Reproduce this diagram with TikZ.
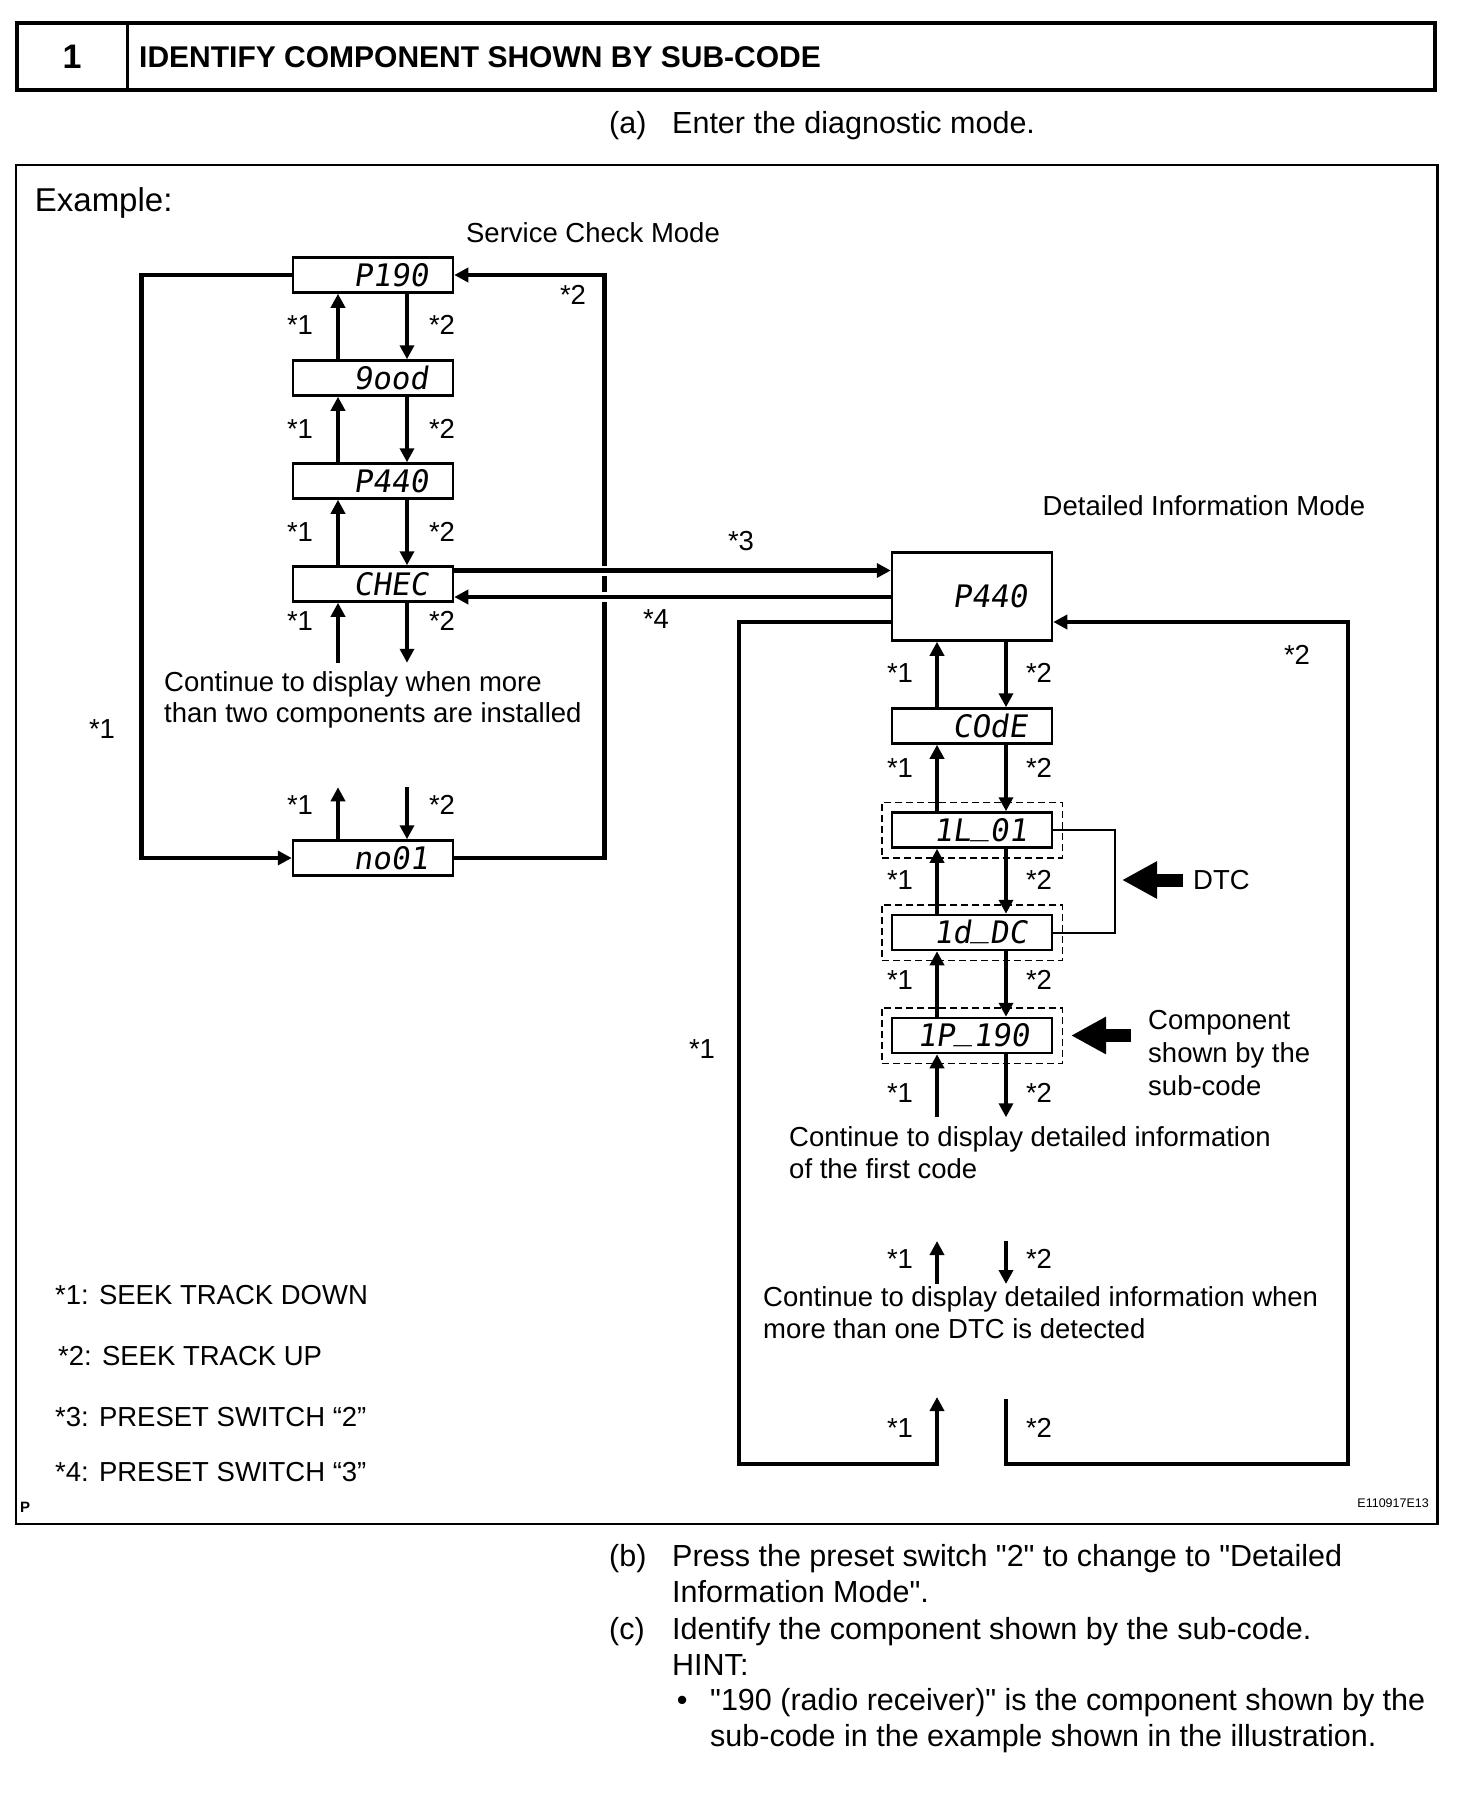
\documentclass[tikz,border=0pt]{standalone}
\usepackage{fontspec}
\setmainfont{Liberation Sans}[Ligatures=TeXOff]
\newfontfamily\lcdfont[FakeSlant=0.15]{DejaVu Sans Mono}
\usetikzlibrary{arrows.meta,fit,calc}
\newcommand\lcdus{\raisebox{7pt}{\_}}
\begin{document}
\begin{tikzpicture}[x=1pt,y=-1pt,
 arr/.style={line width=4.5pt,-{Triangle[length=14pt,width=14pt]}},
 ln/.style={line width=4.5pt},
 lcd/.style={draw,line width=2.5pt,minimum width=160pt,minimum height=35pt,text width=110pt,inner xsep=25pt,inner ysep=0pt,align=right,text height=22.6pt,text depth=0pt,font=\lcdfont\fontsize{31}{31}\selectfont},
 dashbox/.style={draw,dash pattern=on 7pt off 4pt,line width=1.5pt,inner sep=9pt},
 blockarr/.style={line width=13pt,-{Triangle[length=35pt,width=35pt]}},
 s27/.style={font=\fontsize{27.5}{33}\selectfont,inner sep=0pt,text height=19.8pt,text depth=0pt},
 s30/.style={font=\fontsize{30.5}{36}\selectfont,inner sep=0pt,text height=21.9pt,text depth=0pt,anchor=west},
 bridge/.style={preaction={draw=white,line width=10pt,-,shorten <=40pt,shorten >=40pt}}
]
\useasboundingbox (0,0) rectangle (1456,1814);

% header
\draw[line width=4pt] (17.3,23) rectangle (1435,90);
\draw[line width=3pt] (127,23) -- (127,90);
\node[font=\bfseries\fontsize{34}{34}\selectfont,inner sep=0pt,text height=24.5pt,text depth=0pt] (hnum) at (72,56.5) {1};
\node[font=\bfseries\fontsize{30}{30}\selectfont,inner sep=0pt,text height=21.6pt,text depth=0pt,anchor=west] (htitle) at (139,56.5) {IDENTIFY COMPONENT SHOWN BY SUB-CODE};
\node[s30] (alab) at (609,122.6) {(a)};
\node[s30] (atext) at (672,122.6) {Enter the diagnostic mode.};

% frame
\draw[line width=2.2pt] (16,165) rectangle (1437.5,1524);
\node[font=\fontsize{33}{33}\selectfont,inner sep=0pt,text height=23.6pt,text depth=0pt,anchor=west] (example) at (34.7,200) {Example:};
\node[s27] (scm) at (593,232.5) {Service Check Mode};
\node[s27] (dim) at (1204,505.4) {Detailed Information Mode};

% left column
\node[lcd] (p190) at (373,275) {P190};
\node[lcd] (good) at (373,378) {9ood};
\node[lcd] (p440a) at (373,481) {P440};
\node[lcd] (chec) at (373,584) {CHEC};
\node[lcd] (no01) at (373,858) {no01};

% right column
\node[lcd,minimum height=88pt] (big) at (972,596.5) {P440};
\node[lcd] (code) at (972,726) {COdE};
\node[lcd] (b1l) at (972,830) {1L\lcdus01};
\node[lcd] (b1d) at (972,932.5) {1d\lcdus DC};
\node[lcd] (b1p) at (972,1035.5) {1P\lcdus190};
\node[dashbox,fit=(b1l)] (d1) {};
\node[dashbox,fit=(b1d)] (d2) {};
\node[dashbox,fit=(b1p)] (d3) {};

% vertical arrows between boxes
\foreach \u/\l in {p190/good,good/p440a,p440a/chec,big/code,code/b1l,b1l/b1d,b1d/b1p}{
  \draw[arr] ([xshift=-35pt]\l.north) -- ([xshift=-35pt]\u.south);
  \draw[arr] ([xshift=34pt]\u.south) -- ([xshift=34pt]\l.north);
}
% free arrows
\coordinate (c1) at ([xshift=-35pt,yshift=-60pt]chec.south);
\coordinate (c2) at ([xshift=34pt,yshift=-60pt]chec.south);
\draw[arr] (c1) -- ([xshift=-35pt]chec.south);
\draw[arr] ([xshift=34pt]chec.south) -- (c2);
\coordinate (n1) at ([xshift=-35pt,yshift=52pt]no01.north);
\coordinate (n2) at ([xshift=34pt,yshift=52pt]no01.north);
\draw[arr] ([xshift=-35pt]no01.north) -- (n1);
\draw[arr] (n2) -- ([xshift=34pt]no01.north);
\coordinate (q1) at ([xshift=-35pt,yshift=-63pt]b1p.south);
\coordinate (q2) at ([xshift=34pt,yshift=-63pt]b1p.south);
\draw[arr] (q1) -- ([xshift=-35pt]b1p.south);
\draw[arr] ([xshift=34pt]b1p.south) -- (q2);
\coordinate (m1a) at (937,1284);
\coordinate (m1b) at (937,1241);
\coordinate (m2a) at (1006,1241);
\coordinate (m2b) at (1006,1284);
\draw[arr] (m1a) -- (m1b);
\draw[arr] (m2a) -- (m2b);

% left loops
\coordinate (LL) at (141.7,0);
\coordinate (RL) at (604.3,0);
\draw[arr] (p190.west) -| (LL |- no01.west) -- (no01.west);
\draw[arr] (no01.east) -| (RL |- p190.east) -- (p190.east);

% *3 / *4
\draw[arr,bridge] ([yshift=13.5pt]chec.east) -- ([yshift=13.5pt]chec.east -| big.west);
\draw[arr,bridge] ([yshift=-13pt]chec.east -| big.west) -- ([yshift=-13pt]chec.east);

% right loops
\coordinate (l2end) at (937,1397);
\coordinate (r2end) at (1006,1399);
\draw[arr] (r2end) -- (1006,1464) -- (1348,1464) |- ([yshift=-25.5pt]big.east);
\draw[arr] ([yshift=-25.5pt]big.west) -| (739,1464) -| (l2end);

% bracket and block arrows
\draw[line width=2pt] (b1l.east) -- ++(62,0) |- (b1d.east);
\node[s27,anchor=west] (dtc) at (1193,880) {DTC};
\draw[blockarr] ([xshift=-10pt]dtc.west) -- ([xshift=-71pt]dtc.west);
\node[s27,anchor=west] (comp1) at (1148,1020) {Component};
\node[s27,anchor=west] (comp2) at (1148,1053) {shown by the};
\node[s27,anchor=west] (comp3) at (1148,1086) {sub-code};
\draw[blockarr] ([xshift=68pt]d3.east) -- ([xshift=8pt]d3.east);

% labels left column
\foreach \y [count=\i] in {325,429,532,621,805}{
  \node[s27] (la\i) at (300,\y) {*1};
  \node[s27] (lb\i) at (442,\y) {*2};
}
\node[s27] (lt2) at (573,295) {*2};
\node[s27] (ll1) at (102,728.6) {*1};
\node[s27] (s3) at (741,541) {*3};
\node[s27] (s4) at (656,619) {*4};
% labels right column
\foreach \y [count=\i] in {673,768,880,980,1093,1259,1428}{
  \node[s27] (ra\i) at (900,\y) {*1};
  \node[s27] (rb\i) at (1039,\y) {*2};
}
\node[s27] (rt2) at (1297,655) {*2};
\node[s27] (rl1) at (702,1049) {*1};

% texts
\node[s27,anchor=west] (t1a) at (164,681.7) {Continue to display when more};
\node[s27,anchor=west] (t1b) at (164,713) {than two components are installed};
\node[s27,anchor=west] (t2a) at (789,1137) {Continue to display detailed information};
\node[s27,anchor=west] (t2b) at (789,1169) {of the first code};
\node[s27,anchor=west] (t3a) at (763,1296.5) {Continue to display detailed information when};
\node[s27,anchor=west] (t3b) at (763,1329) {more than one DTC is detected};

% legend
\node[s27,anchor=west] (lg1) at (55,1295) {*1: SEEK TRACK DOWN};
\node[s27,anchor=west] (lg2) at (58,1356) {*2: SEEK TRACK UP};
\node[s27,anchor=west] (lg3) at (55,1416.7) {*3: PRESET SWITCH “2”};
\node[s27,anchor=west] (lg4) at (55,1471.7) {*4: PRESET SWITCH “3”};
\node[font=\bfseries\fontsize{15}{15}\selectfont,inner sep=0pt,text height=10.8pt,text depth=0pt,anchor=west] (pmark) at (20,1507) {P};
\node[font=\fontsize{12.5}{12.5}\selectfont,inner sep=0pt,text height=9pt,text depth=0pt,anchor=east] (eid) at (1429,1503) {E110917E13};

% bottom text
\node[s30] (blab) at (609,1555.5) {(b)};
\node[s30] (btxt1) at (672,1555.5) {Press the preset switch "2" to change to "Detailed};
\node[s30] (btxt2) at (672,1591.4) {Information Mode".};
\node[s30] (clab) at (609,1628.4) {(c)};
\node[s30] (ctxt1) at (672,1628.4) {Identify the component shown by the sub-code.};
\node[s30] (ctxt2) at (672,1664.2) {HINT:};
\node[s30] (bul) at (676.6,1700) {•};
\node[s30] (htxt1) at (710,1700) {"190 (radio receiver)" is the component shown by the};
\node[s30] (htxt2) at (710,1736) {sub-code in the example shown in the illustration.};
\end{tikzpicture}
\end{document}
